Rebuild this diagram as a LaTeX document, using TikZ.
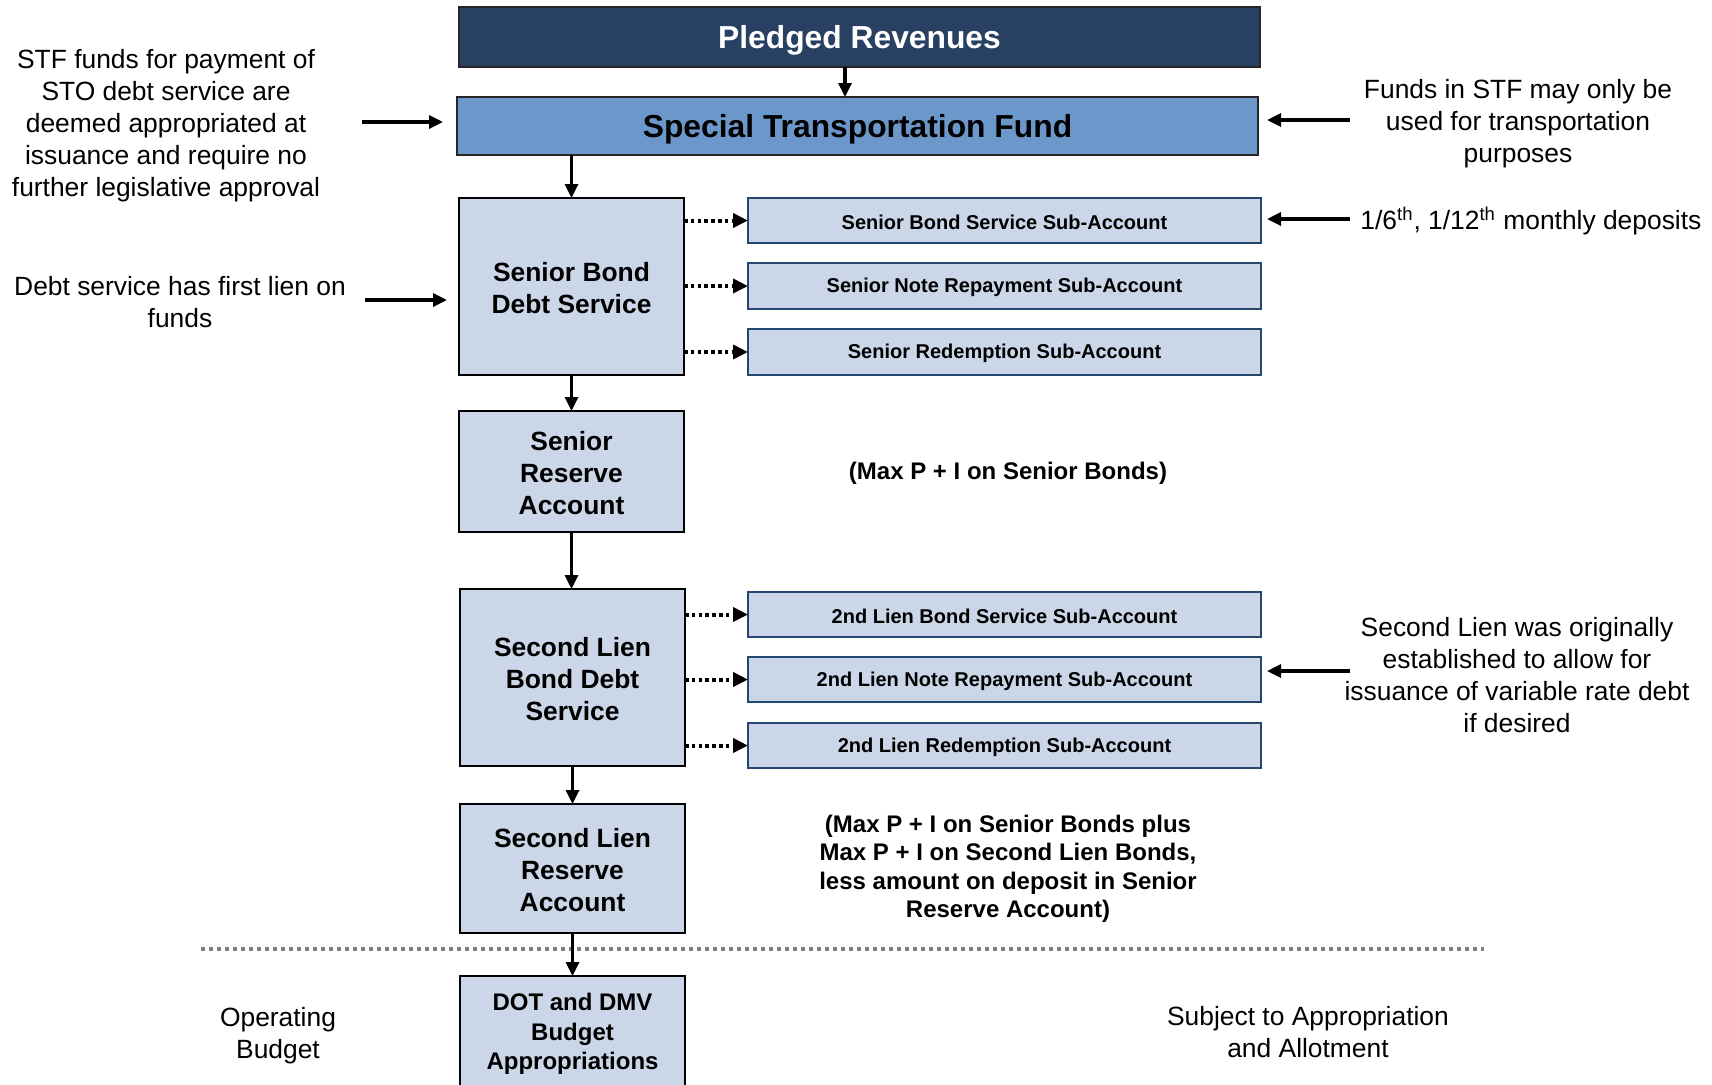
\documentclass[tikz,border=0pt]{standalone}
\usepackage{fontspec}
\setmainfont{Liberation Sans}
\usetikzlibrary{arrows.meta,calc}
\definecolor{boxlight}{RGB}{203,215,232}
\definecolor{stfblue}{RGB}{108,151,202}
\definecolor{prnavy}{RGB}{40,64,98}
\definecolor{subborder}{RGB}{36,70,111}
\definecolor{sepgray}{RGB}{128,128,128}
\begin{document}
\begin{tikzpicture}[x=0.5pt,y=-0.5pt,
  mainbox/.style={draw=black, line width=1.25pt, fill=boxlight, inner sep=0pt, outer sep=0pt,
    minimum width=112.5pt},
  boxtext/.style={align=center, inner sep=0pt, font=\bfseries\fontsize{13.2pt}{16.1pt}\selectfont},
  subbox/.style={draw=subborder, line width=1pt, fill=boxlight, inner sep=0pt, outer sep=0pt,
    minimum width=256.5pt, minimum height=22.75pt},
  subtext/.style={inner sep=0pt, font=\bfseries\fontsize{10pt}{12pt}\selectfont},
  titletext/.style={inner sep=0pt, font=\bfseries\fontsize{15.9pt}{19pt}\selectfont},
  note/.style={align=center, inner sep=0pt, font=\fontsize{13.2pt}{16pt}\selectfont},
  bnote/.style={align=center, inner sep=0pt, font=\bfseries\fontsize{12pt}{14.2pt}\selectfont},
  arr/.style={-{Triangle[length=7pt,width=6.5pt]}, line width=1.6pt},
  dotarr/.style={-{Triangle[length=7.5pt,width=7pt]}, line width=2pt, dash pattern=on 1.8pt off 1.6pt},
]
\useasboundingbox (0,0) rectangle (1712,1084);
\clip (0,0) rectangle (1712,1084);

% top boxes
\node[draw=black!85, line width=1pt, fill=prnavy, inner sep=0pt, outer sep=0pt,
  minimum width=400.5pt, minimum height=30pt] (PR) at (859.5,37) {};
\node[titletext, text=white] (PRt) at ($(PR)+(0,3.5)$) {Pledged Revenues};
\node[draw=black!85, line width=1.25pt, fill=stfblue, inner sep=0pt, outer sep=0pt,
  minimum width=400.5pt, minimum height=29pt] (STF) at (857.5,126) {};
\node[titletext] (STFt) at ($(STF)+(0,3)$) {Special Transportation Fund};

% main column
\node[mainbox, minimum height=88.5pt] (SBDS) at (571.5,286.5) {};
\node[boxtext] (SBDSt) at ($(SBDS)+(0,1.6)$) {Senior Bond\\Debt Service};
\node[mainbox, minimum height=60.5pt] (SRA) at (571.5,471.5) {};
\node[boxtext] (SRAt) at ($(SRA)+(0,1.6)$) {Senior\\Reserve\\Account};
\node[mainbox, minimum height=88.5pt] (SLBDS) at (572.5,677.5) {};
\node[boxtext] (SLBDSt) at ($(SLBDS)+(0,1.6)$) {Second Lien\\Bond Debt\\Service};
\node[mainbox, minimum height=64.5pt] (SLRA) at (572.5,868.5) {};
\node[boxtext] (SLRAt) at ($(SLRA)+(0,1.6)$) {Second Lien\\Reserve\\Account};
\node[mainbox, minimum height=56pt] (DOT) at (572.5,1032) {};
\node[boxtext, font=\bfseries\fontsize{12pt}{14.75pt}\selectfont] (DOTt) at ($(DOT)+(0,2.2)$) {DOT and DMV\\Budget\\Appropriations};

% sub-accounts
\node[subbox] (S1) at (1004.5,220.5) {};
\node[subbox] (S2) at (1004.5,286) {};
\node[subbox] (S3) at (1004.5,352) {};
\node[subbox] (L1) at (1004.5,614.5) {};
\node[subbox] (L2) at (1004.5,679.5) {};
\node[subbox] (L3) at (1004.5,745.5) {};
\node[subtext] (S1t) at ($(S1)+(0,1.6)$) {Senior Bond Service Sub-Account};
\node[subtext] (S2t) at ($(S2)+(0,1.6)$) {Senior Note Repayment Sub-Account};
\node[subtext] (S3t) at ($(S3)+(0,1.6)$) {Senior Redemption Sub-Account};
\node[subtext] (L1t) at ($(L1)+(0,1.6)$) {2nd Lien Bond Service Sub-Account};
\node[subtext] (L2t) at ($(L2)+(0,1.6)$) {2nd Lien Note Repayment Sub-Account};
\node[subtext] (L3t) at ($(L3)+(0,1.6)$) {2nd Lien Redemption Sub-Account};

% separator
\draw[sepgray, line width=2pt, dash pattern=on 2pt off 2pt] (201,949) -- (1484,949);

% vertical arrows
\coordinate (prx) at (845,0);
\draw[arr] (PR.south -| prx) -- (STF.north -| prx);
\draw[arr] (STF.south -| SBDS.north) -- (SBDS.north);
\draw[arr] (SBDS.south) -- (SRA.north);
\draw[arr] (SRA.south) -- (SRA.south |- SLBDS.north);
\draw[arr] (SLBDS.south) -- (SLRA.north);
\draw[arr] (SLRA.south) -- (DOT.north);

% dotted arrows
\foreach \s in {S1,S2,S3}{\draw[dotarr] (\s.west -| SBDS.east) -- (\s.west);}
\foreach \s in {L1,L2,L3}{\draw[dotarr] (\s.west -| SLBDS.east) -- (\s.west);}

% notes
\node[note] (N1) at (166,125.3) {STF funds for payment of\\STO debt service are\\deemed appropriated at\\issuance and require no\\further legislative approval};
\node[note] (N2) at (180,302.5) {Debt service has first lien on\\funds};
\node[note] (N3) at (1518,123.2) {Funds in STF may only be\\used for transportation\\purposes};
\node[note, anchor=west] (N4) at (1360,221) {1/6\textsuperscript{th}, 1/12\textsuperscript{th} monthly deposits};
\node[note] (N5) at (1517,675) {Second Lien was originally\\established to allow for\\issuance of variable rate debt\\if desired};
\node[bnote] (N6) at (1008,473.2) {(Max P + I on Senior Bonds)};
\node[bnote] (N7) at (1008,868.7) {(Max P + I on Senior Bonds plus\\Max P + I on Second Lien Bonds,\\less amount on deposit in Senior\\Reserve Account)};
\node[note] (N8) at (278,1035.3) {Operating\\Budget};
\node[note] (N9) at (1308,1032.5) {Subject to Appropriation\\and Allotment};

% side arrows
\coordinate (a1s) at (362,122); \coordinate (a1e) at (443,122);
\coordinate (a2s) at (365,300); \coordinate (a2e) at (447,300);
\coordinate (a3s) at (1350,120); \coordinate (a3e) at (1267,120);
\coordinate (a4s) at (1350,219); \coordinate (a4e) at (1267,219);
\coordinate (a5s) at (1350,671); \coordinate (a5e) at (1267,671);
\draw[arr] (a1s) -- (a1e);
\draw[arr] (a2s) -- (a2e);
\draw[arr] (a3s) -- (a3e);
\draw[arr] (a4s) -- (a4e);
\draw[arr] (a5s) -- (a5e);
\end{tikzpicture}
\end{document}
